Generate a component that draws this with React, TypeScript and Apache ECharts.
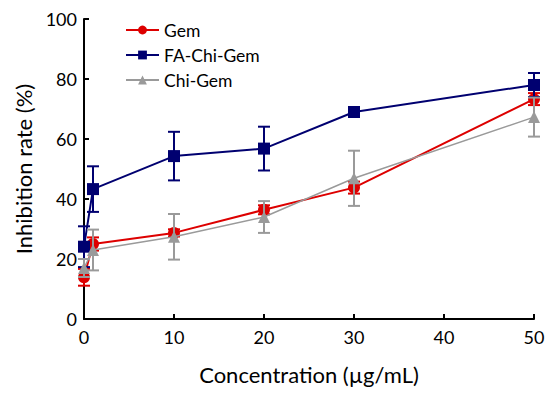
import React, { useEffect, useRef } from "react";
import * as echarts from "echarts";

const concentrations = [0, 1, 10, 20, 30, 50];
const gemValues = [13.9, 25.0, 28.7, 36.4, 43.8, 73.3];
const gemErrors = [2.8, 2.2, 1.2, 1.5, 2.0, 2.0];
const faValues = [24.1, 43.3, 54.3, 56.8, 69.0, 78.0];
const faErrors = [6.8, 7.6, 8.1, 7.3, 1.0, 4.0];
const chiValues = [17.0, 23.0, 27.4, 34.0, 46.9, 67.3];
const chiErrors = [3.0, 6.8, 7.6, 5.3, 9.2, 6.5];
const xTicks = [0, 10, 20, 30, 40, 50];
const yTicks = [0, 20, 40, 60, 80, 100];

const FONT = "Lato, 'Open Sans', sans-serif";
const RED = "#dd0000";
const NAVY = "#000070";
const GRAY = "#9a9a9a";

function pairs(vals: number[]) {
  return concentrations.map((c, i) => [c, vals[i]]);
}
function errData(vals: number[], errs: number[]) {
  return concentrations.map((c, i) => [c, vals[i] - errs[i], vals[i] + errs[i]]);
}

function errorSeries(name: string, vals: number[], errs: number[], color: string, z: number) {
  return {
    type: "custom",
    name: name + "-err",
    z,
    data: errData(vals, errs),
    encode: { x: 0, y: [1, 2] },
    renderItem: (params: any, api: any) => {
      const x = api.value(0);
      const lo = api.coord([x, api.value(1)]);
      const hi = api.coord([x, api.value(2)]);
      const hw = 6;
      const style = { stroke: color, lineWidth: 2 };
      return {
        type: "group",
        children: [
          { type: "line", shape: { x1: lo[0], y1: lo[1], x2: hi[0], y2: hi[1] }, style },
          { type: "line", shape: { x1: lo[0] - hw, y1: lo[1], x2: lo[0] + hw, y2: lo[1] }, style },
          { type: "line", shape: { x1: hi[0] - hw, y1: hi[1], x2: hi[0] + hw, y2: hi[1] }, style },
        ],
      };
    },
    silent: true,
  };
}

export default function App() {
  const ref = useRef<HTMLDivElement>(null);
  useEffect(() => {
    if (!ref.current) return;
    const chart = echarts.init(ref.current, null, { renderer: "svg" });
    chart.setOption({
      animation: false,
      backgroundColor: "#ffffff",
      grid: { left: 84, right: 18, top: 19, bottom: 74 },
      legend: {
        orient: "vertical",
        left: 120,
        top: 16,
        itemWidth: 33,
        itemHeight: 11,
        itemGap: 7,
        data: ["Gem", "FA-Chi-Gem", "Chi-Gem"],
        textStyle: { fontFamily: FONT, fontSize: 17.5, color: "#000" },
      },
      xAxis: {
        type: "value",
        min: 0,
        max: 50,
        interval: 10,
        name: "Concentration (µg/mL)",
        nameLocation: "middle",
        nameGap: 44,
        nameTextStyle: { fontFamily: FONT, fontSize: 22, color: "#000" },
        axisLine: { lineStyle: { color: "#000", width: 2 } },
        axisTick: { inside: true, length: 5, lineStyle: { color: "#000", width: 2 } },
        axisLabel: { fontFamily: FONT, fontSize: 18, color: "#000", margin: 9 },
        splitLine: { show: false },
      },
      yAxis: {
        type: "value",
        min: 0,
        max: 100,
        interval: 20,
        name: "Inhibition rate (%)",
        nameLocation: "middle",
        nameGap: 48,
        nameTextStyle: { fontFamily: FONT, fontSize: 22, color: "#000" },
        axisLine: { show: true, lineStyle: { color: "#000", width: 2 } },
        axisTick: { show: true, inside: true, length: 5, lineStyle: { color: "#000", width: 2 } },
        axisLabel: { fontFamily: FONT, fontSize: 18, color: "#000", margin: 7 },
        splitLine: { show: false },
      },
      series: [
        errorSeries("Gem", gemValues, gemErrors, RED, 2),
        {
          type: "line",
          name: "Gem",
          z: 3,
          data: pairs(gemValues),
          symbol: "circle",
          symbolSize: 12,
          itemStyle: { color: RED },
          lineStyle: { color: RED, width: 2 },
        },
        errorSeries("FA-Chi-Gem", faValues, faErrors, NAVY, 4),
        {
          type: "line",
          name: "FA-Chi-Gem",
          z: 5,
          data: pairs(faValues),
          symbol: "rect",
          symbolSize: 12,
          itemStyle: { color: NAVY },
          lineStyle: { color: NAVY, width: 2 },
        },
        errorSeries("Chi-Gem", chiValues, chiErrors, GRAY, 6),
        {
          type: "line",
          name: "Chi-Gem",
          z: 7,
          data: pairs(chiValues),
          symbol: "triangle",
          symbolSize: 12,
          itemStyle: { color: GRAY },
          lineStyle: { color: GRAY, width: 1.5 },
        },
      ],
    });
    return () => chart.dispose();
  }, []);
  return <div ref={ref} style={{ width: 552, height: 393, position: "absolute", left: 0, top: 0 }} />;
}
